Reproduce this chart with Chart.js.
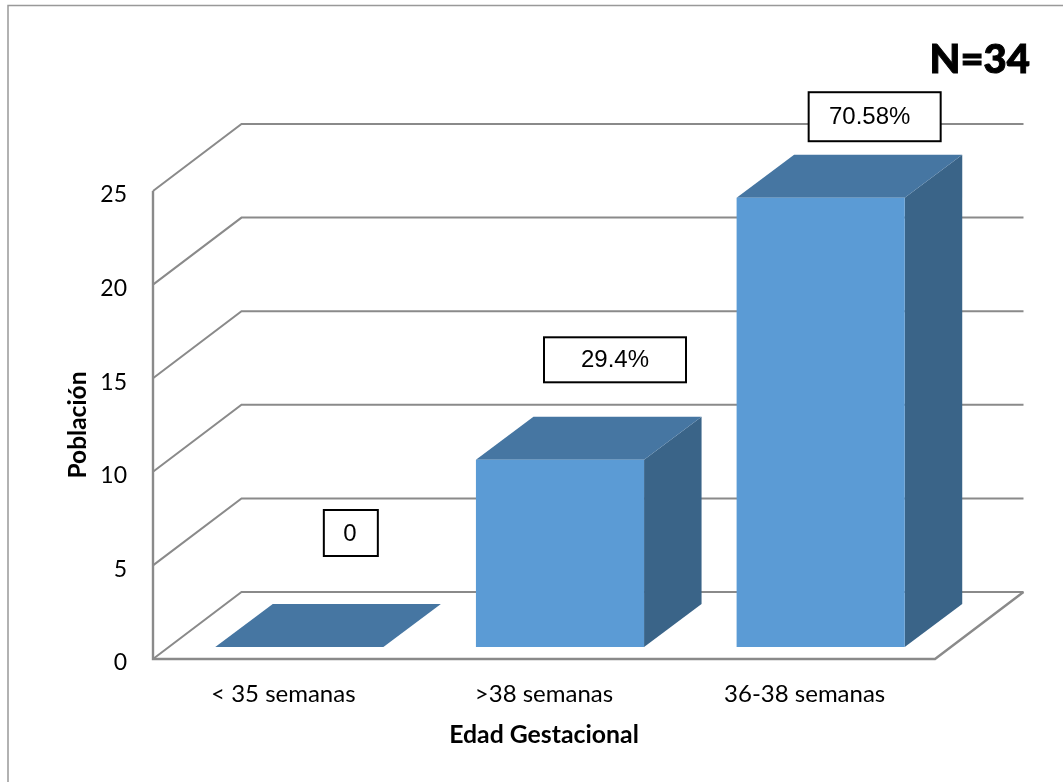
<!DOCTYPE html>
<html>
<head>
<meta charset="utf-8">
<title>Edad Gestacional</title>
<script src="https://cdn.jsdelivr.net/npm/chart.js@4"></script>
<style>
  html, body { margin: 0; padding: 0; background: #fff; overflow: hidden; }
  canvas { display: block; }
</style>
</head>
<body>
<canvas id="barraEdad" width="1063" height="782"></canvas>
<script>
var categorias = ["< 35 semanas", ">38 semanas", "36-38 semanas"];
var poblacion = [0, 10, 24];
var etiquetas = ["0", "29.4%", "70.58%"];
var ticksY = [0, 5, 10, 15, 20, 25];
var anotacion = "N=34";

var FUENTE = "Lato, Carlito, sans-serif";
var GRIS = "#8a8a8a";
var pared = { dx: 88.5, dy: -67 };   // depth of the back wall
var fondo = { dx: 57.5, dy: -43 };   // depth of each column
var avance = { dx: 16, dy: -12 };    // columns stand a bit inside the floor
// label boxes, relative to the top of each column
var cajas = [
  { dx: 51.5, dy: -114, w: 54, h: 46, tx: -1 },
  { dx: 55, dy: -100, w: 142, h: 45, tx: 0 },
  { dx: 54, dy: -81, w: 132, h: 49, tx: -5 }
];

function cara(ctx, color, puntos) {
  ctx.fillStyle = color;
  ctx.beginPath();
  ctx.moveTo(puntos[0], puntos[1]);
  for (var i = 2; i < puntos.length; i += 2) ctx.lineTo(puntos[i], puntos[i + 1]);
  ctx.closePath();
  ctx.fill();
}

var caja3d = {
  id: "caja3d",
  // outer frame, walls and floor
  beforeDatasetsDraw: function (chart) {
    var ctx = chart.ctx, a = chart.chartArea, y = chart.scales.y;
    ctx.save();
    ctx.strokeStyle = "#999";
    ctx.lineWidth = 1.5;
    ctx.beginPath();
    ctx.moveTo(8, 782);
    ctx.lineTo(8, 5.5);
    ctx.lineTo(1063, 5.5);
    ctx.stroke();

    ctx.strokeStyle = GRIS;
    ctx.lineJoin = "miter";
    ticksY.forEach(function (t) {
      var py = y.getPixelForValue(t);
      ctx.lineWidth = 2;
      ctx.beginPath();
      ctx.moveTo(a.left, py);
      ctx.lineTo(a.left + pared.dx, py + pared.dy);
      ctx.lineTo(a.right + pared.dx, py + pared.dy);
      ctx.stroke();
    });
    // left edge and front of the floor
    var y0 = y.getPixelForValue(0);
    ctx.lineWidth = 2.4;
    ctx.beginPath();
    ctx.moveTo(a.left, y.getPixelForValue(25));
    ctx.lineTo(a.left, y0);
    ctx.lineTo(a.right, y0);
    ctx.lineTo(a.right + pared.dx, y0 + pared.dy);
    ctx.stroke();
    ctx.restore();
  },
  // top and side faces go under the column drawn by the library
  beforeDatasetDraw: function (chart, args) {
    var ctx = chart.ctx;
    ctx.save();
    ctx.translate(avance.dx, avance.dy);
    args.meta.data.forEach(function (bar) {
      var p = bar.getProps(["x", "y", "base", "width"], true);
      var l = p.x - p.width / 2, r = p.x + p.width / 2;
      cara(ctx, "#3a6488", [r, p.y, r + fondo.dx, p.y + fondo.dy, r + fondo.dx, p.base + fondo.dy, r, p.base]);
      cara(ctx, "#4676a2", [l, p.y, l + fondo.dx, p.y + fondo.dy, r + fondo.dx, p.y + fondo.dy, r, p.y]);
    });
  },
  afterDatasetDraw: function (chart) {
    chart.ctx.restore();
  },
  // boxed labels and the N=34 note
  afterDatasetsDraw: function (chart) {
    var ctx = chart.ctx;
    var barras = chart.getDatasetMeta(0).data;
    ctx.save();
    ctx.textBaseline = "middle";
    etiquetas.forEach(function (txt, i) {
      var c = cajas[i], bar = barras[i];
      var cx = bar.x + avance.dx + c.dx, cy = bar.y + avance.dy + c.dy;
      ctx.fillStyle = "#fff";
      ctx.fillRect(cx - c.w / 2, cy - c.h / 2, c.w, c.h);
      ctx.strokeStyle = "#000";
      ctx.lineWidth = 2;
      ctx.strokeRect(cx - c.w / 2, cy - c.h / 2, c.w, c.h);
      ctx.fillStyle = "#000";
      ctx.font = "24px 'Liberation Sans', Arial, sans-serif";
      ctx.textAlign = "center";
      ctx.fillText(txt, cx + c.tx, cy + 1);
    });
    ctx.font = "900 40px " + FUENTE;
    ctx.textAlign = "right";
    ctx.lineWidth = 1;
    ctx.fillText(anotacion, 1030, 60);
    ctx.strokeText(anotacion, 1030, 60);
    ctx.restore();
  }
};

var ctx = document.getElementById("barraEdad").getContext("2d");
var chart = new Chart(ctx, {
  type: "bar",
  data: {
    labels: categorias,
    datasets: [
      {
        label: "Población",
        data: poblacion,
        backgroundColor: "#5b9bd5",
        categoryPercentage: 1,
        barPercentage: 0.645,
        clip: false
      }
    ]
  },
  options: {
    responsive: false,
    animation: false,
    layout: { padding: { left: 0, top: 191, right: 128, bottom: 0 } },
    plugins: {
      legend: { display: false },
      tooltip: { enabled: false }
    },
    scales: {
      x: {
        grid: { display: false },
        border: { display: false },
        ticks: { color: "#000", padding: 13, maxRotation: 0, font: { family: FUENTE, size: 24 } },
        title: {
          display: true,
          text: "Edad Gestacional",
          color: "#000",
          padding: { top: 0, bottom: 32 },
          font: { family: FUENTE, size: 24.8, weight: "bold" }
        },
        afterFit: function (scale) { scale.height = 123; }
      },
      y: {
        min: 0,
        max: 25,
        afterBuildTicks: function (scale) {
          scale.ticks = ticksY.map(function (v) { return { value: v }; });
        },
        grid: { display: false },
        border: { display: false },
        ticks: { color: "#000", padding: 18, labelOffset: 4, font: { family: FUENTE, size: 23 } },
        title: {
          display: true,
          text: "Población",
          color: "#000",
          padding: { top: 63, bottom: 0 },
          font: { family: FUENTE, size: 24.5, weight: "bold" }
        },
        afterFit: function (scale) { scale.width = 153; }
      }
    }
  },
  plugins: [caja3d]
});
</script>
</body>
</html>
